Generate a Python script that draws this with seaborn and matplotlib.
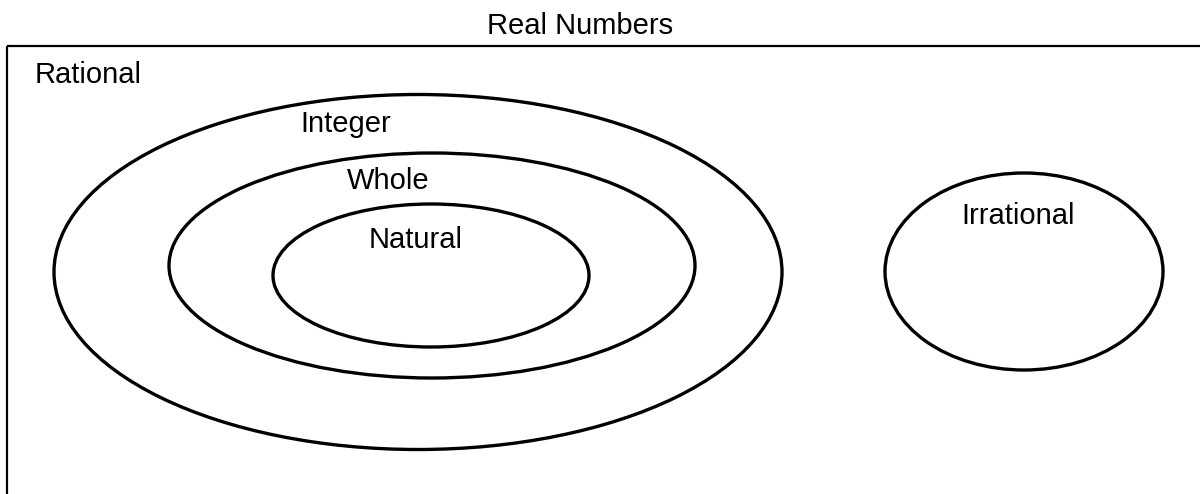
import matplotlib
matplotlib.use('Agg')
import matplotlib.pyplot as plt
from matplotlib.patches import Ellipse, Rectangle
import seaborn as sns

# Sets drawn as ellipses (pixel-like coordinates, y grows downward)
set_names = ['Integer', 'Whole', 'Natural', 'Irrational']
center_x = [418, 432, 431, 1024]
center_y = [272, 265.5, 275.5, 271.5]
widths = [728, 526, 316, 278]
heights = [355, 225, 143, 197]

# Label positions (baseline, centred)
label_x = [346, 388, 415.5, 1018]
label_y = [132, 189, 248, 224]

sns.set_style('white')
plt.rcParams['font.family'] = ['Liberation Sans', 'DejaVu Sans']
plt.rcParams['text.color'] = 'black'

fig = plt.figure(figsize=(12, 4.94), dpi=100)
ax = fig.add_axes([0, 0, 1, 1])
ax.set_xlim(0, 1200)
ax.set_ylim(494, 0)
ax.axis('off')

# the "Real Numbers" box (runs off the right and bottom edges)
ax.add_patch(Rectangle((7, 46), 1400, 600, fill=False, edgecolor='black', linewidth=1.6))
ax.text(580, 34, 'Real Numbers', fontsize=21, ha='center', va='baseline', color='black')
ax.text(35, 83, 'Rational', fontsize=21, ha='left', va='baseline', color='black')

for name, cx, cy, w, h, lx, ly in zip(set_names, center_x, center_y, widths, heights, label_x, label_y):
    ax.add_patch(Ellipse((cx, cy), w, h, fill=False, edgecolor='black', linewidth=2.4))
    ax.text(lx, ly, name, fontsize=21, ha='center', va='baseline', color='black')

fig.savefig('out.png', dpi=100)
